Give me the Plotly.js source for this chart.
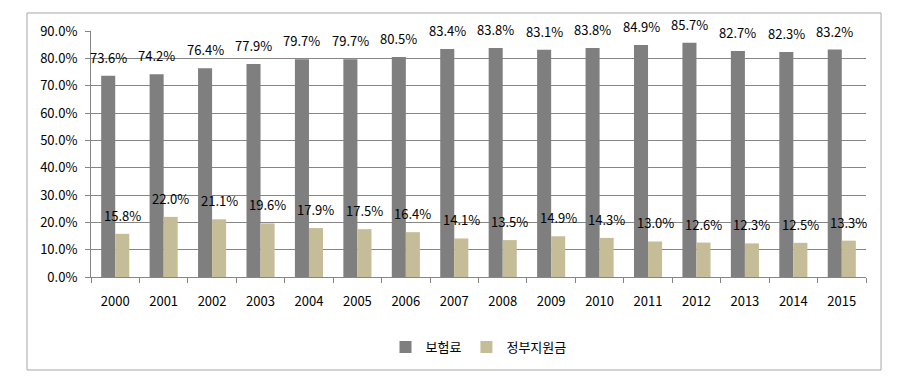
<!DOCTYPE html>
<html><head><meta charset="utf-8">
<script src="https://cdn.plot.ly/plotly-3.0.1.min.js"></script>
<style>html,body{margin:0;padding:0;background:#fff}#chart{width:914px;height:384px}</style>
</head><body><div id="chart"></div>
<script>
const years = ['2000','2001','2002','2003','2004','2005','2006','2007','2008','2009','2010','2011','2012','2013','2014','2015'];
const premium = [0.736,0.742,0.764,0.779,0.797,0.797,0.805,0.834,0.838,0.831,0.838,0.849,0.857,0.827,0.823,0.832];
const subsidy = [0.158,0.220,0.211,0.196,0.179,0.175,0.164,0.141,0.135,0.149,0.143,0.130,0.126,0.123,0.125,0.133];
const seriesNames = ['보험료','정부지원금'];
const yTicks = [0,0.1,0.2,0.3,0.4,0.5,0.6,0.7,0.8,0.9];

const font = 'Noto Sans CJK KR, Noto Sans, sans-serif';
const fmt = v => (v*100).toFixed(1) + '%';

const annotations = [];
years.forEach((y,i)=>{
  annotations.push({x:i, y:premium[i], text:fmt(premium[i]), showarrow:false, xshift:-7, yshift:7, yanchor:'bottom', font:{family:font,size:13,color:'#000'}});
  annotations.push({x:i, y:subsidy[i], text:fmt(subsidy[i]), showarrow:false, xshift:7, yshift:7, yanchor:'bottom', font:{family:font,size:13,color:'#000'}});
});

const data = [
  {type:'bar', x:years, y:premium, name:seriesNames[0], marker:{color:'#7f7f7f'}, hoverinfo:'skip'},
  {type:'bar', x:years, y:subsidy, name:seriesNames[1], marker:{color:'#c4bd97'}, hoverinfo:'skip'}
];

const layout = {
  width:914, height:384,
  margin:{l:91, r:48, t:31, b:107},
  paper_bgcolor:'#fff', plot_bgcolor:'#fff',
  barmode:'group', bargap:0.42, bargroupgap:0,
  font:{family:font, size:13, color:'#000'},
  showlegend:true,
  legend:{orientation:'h', x:0.5, xanchor:'center', y:-0.285, yanchor:'middle', font:{family:font,size:13,color:'#000'}, itemwidth:30},
  xaxis:{type:'category', range:[-0.5,15.5], showline:true, linecolor:'#868686', linewidth:1, ticks:'outside', tickson:'boundaries', ticklen:5, tickcolor:'#868686', ticklabelstandoff:12, showgrid:false, tickfont:{family:font,size:13,color:'#000'}, fixedrange:true},
  yaxis:{range:[0,0.9], tickvals:yTicks, ticktext:yTicks.map(fmt), showline:true, linecolor:'#868686', linewidth:1, ticks:'outside', ticklen:5, tickcolor:'#868686', ticklabelstandoff:5, showgrid:true, gridcolor:'#868686', gridwidth:1, zeroline:false, tickfont:{family:font,size:13,color:'#000'}, fixedrange:true},
  annotations:annotations,
  shapes:[{type:'rect', xref:'paper', yref:'paper', x0:-0.0826, x1:1.0194, y0:-0.378, y1:1.0732, line:{color:'#a6a6a6', width:1}, fillcolor:'rgba(0,0,0,0)', layer:'below'}]
};
Plotly.newPlot('chart', data, layout, {displayModeBar:false, staticPlot:true});
</script></body></html>
